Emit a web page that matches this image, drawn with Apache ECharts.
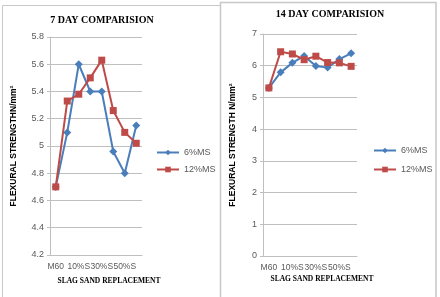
<!DOCTYPE html>
<html>
<head>
<meta charset="utf-8">
<script src="https://cdn.jsdelivr.net/npm/echarts@6/dist/echarts.min.js"></script>
<style>
  html, body { margin: 0; padding: 0; background: #fff; }
  #main { width: 440px; height: 297px; }
</style>
</head>
<body>
<div id="main"></div>
<script>
var categories = ['M60', '5%S', '10%S', '20%S', '30%S', '40%S', '50%S', '60%S'];
var day7_ms6 = [4.7, 5.1, 5.6, 5.4, 5.4, 4.96, 4.8, 5.15];
var day7_ms12 = [4.7, 5.33, 5.38, 5.5, 5.63, 5.26, 5.1, 5.02];
var day14_ms6 = [5.3, 5.79, 6.09, 6.31, 5.99, 5.94, 6.21, 6.39];
var day14_ms12 = [5.3, 6.44, 6.37, 6.19, 6.3, 6.1, 6.09, 5.98];

var BLUE = '#4a7ebb', RED = '#be4b48';
var myChart = echarts.init(document.getElementById('main'));

function xAx(idx) {
  return {
    type: 'category', gridIndex: idx, data: categories, boundaryGap: true,
    axisLine: { show: true, lineStyle: { color: '#bfbfbf' } },
    axisTick: { show: false },
    axisLabel: {
      interval: 0, hideOverlap: false, color: '#595959', fontSize: 8.5, fontFamily: 'Liberation Sans', margin: 7,
      // Excel only printed every other category
      formatter: function (v, i) { return i % 2 === 0 ? v : ''; }
    }
  };
}
function yAx(idx, min, max, step, name) {
  return {
    type: 'value', gridIndex: idx, min: min, max: max, interval: step,
    name: name, nameLocation: 'middle', nameRotate: 90, nameGap: idx === 0 ? 32 : 26,
    nameTextStyle: { fontSize: 8.5, fontWeight: 'bold', color: '#000', fontFamily: 'Liberation Sans' },
    axisLine: { show: true, lineStyle: { color: '#bfbfbf' } },
    axisTick: { show: true, length: 3, lineStyle: { color: '#bfbfbf' } },
    splitLine: { lineStyle: { color: '#bfbfbf' } },
    axisLabel: { color: '#595959', fontSize: 9, fontFamily: 'Liberation Sans', margin: 6 }
  };
}
function ser(name, data, idx, color, symbol) {
  return {
    name: name, type: 'line', xAxisIndex: idx, yAxisIndex: idx, data: data,
    symbol: symbol, symbolSize: symbol === 'rect' ? 7 : 8, showAllSymbol: true,
    lineStyle: { color: color, width: 2 }, itemStyle: { color: color },
    animation: false
  };
}

var titleFont = { fontFamily: 'Liberation Serif', fontWeight: 'bold', fontSize: 10, color: '#000' };
var nameFont = { fontFamily: 'Liberation Serif', fontWeight: 'bold', fontSize: 7.5, color: '#000' };

var option = {
  animation: false,
  title: [
    { text: '7 DAY COMPARISION', left: 102, top: 15, textAlign: 'center', textStyle: titleFont, padding: 0 },
    { text: '14 DAY COMPARISION', left: 330, top: 9, textAlign: 'center', textStyle: titleFont, padding: 0 },
    { text: 'SLAG SAND REPLACEMENT', left: 109, top: 277, textAlign: 'center', textStyle: nameFont, padding: 0 },
    { text: 'SLAG SAND REPLACEMENT', left: 322, top: 275, textAlign: 'center', textStyle: nameFont, padding: 0 }
  ],
  graphic: [
    { type: 'rect', shape: { x: 2.5, y: 5.5, width: 218, height: 300 }, style: { fill: 'none', stroke: '#c8c8c8', lineWidth: 1 } },
    { type: 'rect', shape: { x: 220.5, y: 2.5, width: 215.5, height: 300 }, style: { fill: 'none', stroke: '#c8c8c8', lineWidth: 1.5 } }
  ],
  legend: [
    { data: ['6%MS', '12%MS'], orient: 'vertical', left: 156, top: 148, itemWidth: 22, itemHeight: 7, itemGap: 8,
      textStyle: { fontSize: 9, color: '#595959', fontFamily: 'Liberation Sans' }, padding: 0 },
    { data: ['6%MS', '12%MS'], orient: 'vertical', left: 373, top: 146, itemWidth: 22, itemHeight: 7, itemGap: 10,
      textStyle: { fontSize: 9, color: '#595959', fontFamily: 'Liberation Sans' }, padding: 0 }
  ],
  grid: [
    { left: 50, top: 37, width: 92, height: 218 },
    { left: 263, top: 34, width: 94, height: 222 }
  ],
  xAxis: [xAx(0), xAx(1)],
  yAxis: [
    yAx(0, 4.2, 5.8, 0.2, 'FLEXURAL STRENGTHN/mm\u00b2'),
    yAx(1, 0, 7, 1, 'FLEXURAL STRENGTH N/mm\u00b2')
  ],
  series: [
    ser('6%MS', day7_ms6, 0, BLUE, 'diamond'),
    ser('12%MS', day7_ms12, 0, RED, 'rect'),
    ser('6%MS', day14_ms6, 1, BLUE, 'diamond'),
    ser('12%MS', day14_ms12, 1, RED, 'rect')
  ]
};
myChart.setOption(option, true);
</script>
</body>
</html>
